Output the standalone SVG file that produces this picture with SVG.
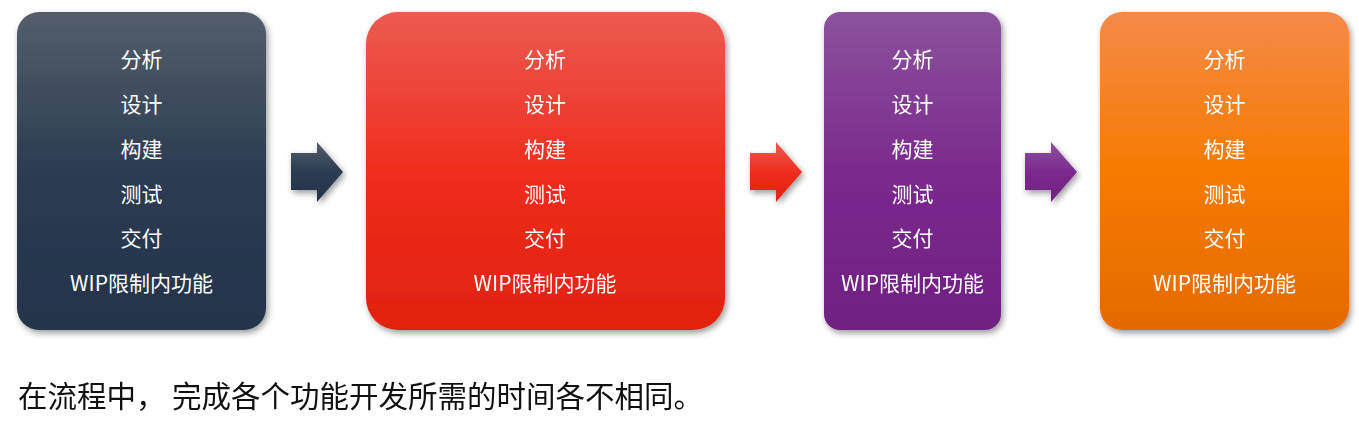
<svg xmlns="http://www.w3.org/2000/svg" width="1359" height="431" viewBox="0 0 1359 431">
<defs>
<linearGradient id="gNavy" x1="0" y1="0" x2="0" y2="1"><stop offset="0" stop-color="#545e6b"/><stop offset="0.5" stop-color="#2c3c52"/><stop offset="1" stop-color="#24344b"/></linearGradient>
<linearGradient id="gRed" x1="0" y1="0" x2="0" y2="1"><stop offset="0" stop-color="#ec5b52"/><stop offset="0.5" stop-color="#ef2d1d"/><stop offset="1" stop-color="#e0220f"/></linearGradient>
<linearGradient id="gPurple" x1="0" y1="0" x2="0" y2="1"><stop offset="0" stop-color="#8c529c"/><stop offset="0.5" stop-color="#7b2a8e"/><stop offset="1" stop-color="#6f2083"/></linearGradient>
<linearGradient id="gOrange" x1="0" y1="0" x2="0" y2="1"><stop offset="0" stop-color="#f48a49"/><stop offset="0.5" stop-color="#f67b00"/><stop offset="1" stop-color="#e46a00"/></linearGradient>
<filter id="shadow" x="-10%" y="-10%" width="125%" height="125%"><feDropShadow dx="2" dy="3" stdDeviation="3" flood-color="#000" flood-opacity="0.4"/></filter>
<path id="arrowShape" d="M0 11 H26 V0 L52 30 L26 60 V48 H0 Z"/>
</defs>
<style>
.lbl{font-family:"Microsoft YaHei","Noto Sans CJK SC","Noto Sans",sans-serif;font-size:21px;fill:#ffffff;text-anchor:middle}
.cap{font-family:"Microsoft YaHei","Noto Sans CJK SC","Noto Sans",sans-serif;font-size:29.5px;fill:#111111}
</style>
<g id="connectors" filter="url(#shadow)">
<use href="#arrowShape" x="291" y="142" fill="url(#gNavy)"/>
<use href="#arrowShape" x="750" y="142" fill="url(#gRed)"/>
<use href="#arrowShape" x="1025" y="142" fill="url(#gPurple)"/>
</g>
<g id="node1">
<rect x="17" y="12" width="249" height="318" rx="22" fill="url(#gNavy)" filter="url(#shadow)"/>
<text class="lbl" x="141.5" y="67">分析</text>
<text class="lbl" x="141.5" y="112">设计</text>
<text class="lbl" x="141.5" y="157">构建</text>
<text class="lbl" x="141.5" y="202">测试</text>
<text class="lbl" x="141.5" y="246">交付</text>
<text class="lbl" x="141.5" y="291">WIP限制内功能</text>
</g>
<g id="node2">
<rect x="366" y="12" width="359" height="318" rx="32" fill="url(#gRed)" filter="url(#shadow)"/>
<text class="lbl" x="545" y="67">分析</text>
<text class="lbl" x="545" y="112">设计</text>
<text class="lbl" x="545" y="157">构建</text>
<text class="lbl" x="545" y="202">测试</text>
<text class="lbl" x="545" y="246">交付</text>
<text class="lbl" x="545" y="291">WIP限制内功能</text>
</g>
<g id="node3">
<rect x="824" y="12" width="177" height="318" rx="16" fill="url(#gPurple)" filter="url(#shadow)"/>
<text class="lbl" x="912.5" y="67">分析</text>
<text class="lbl" x="912.5" y="112">设计</text>
<text class="lbl" x="912.5" y="157">构建</text>
<text class="lbl" x="912.5" y="202">测试</text>
<text class="lbl" x="912.5" y="246">交付</text>
<text class="lbl" x="912.5" y="291">WIP限制内功能</text>
</g>
<g id="node4">
<rect x="1100" y="12" width="249" height="318" rx="22" fill="url(#gOrange)" filter="url(#shadow)"/>
<text class="lbl" x="1224.5" y="67">分析</text>
<text class="lbl" x="1224.5" y="112">设计</text>
<text class="lbl" x="1224.5" y="157">构建</text>
<text class="lbl" x="1224.5" y="202">测试</text>
<text class="lbl" x="1224.5" y="246">交付</text>
<text class="lbl" x="1224.5" y="291">WIP限制内功能</text>
</g>
<g id="caption">
<text class="cap" x="18" y="407">在流程中， 完成各个功能开发所需的时间各不相同。</text>
</g>
</svg>
